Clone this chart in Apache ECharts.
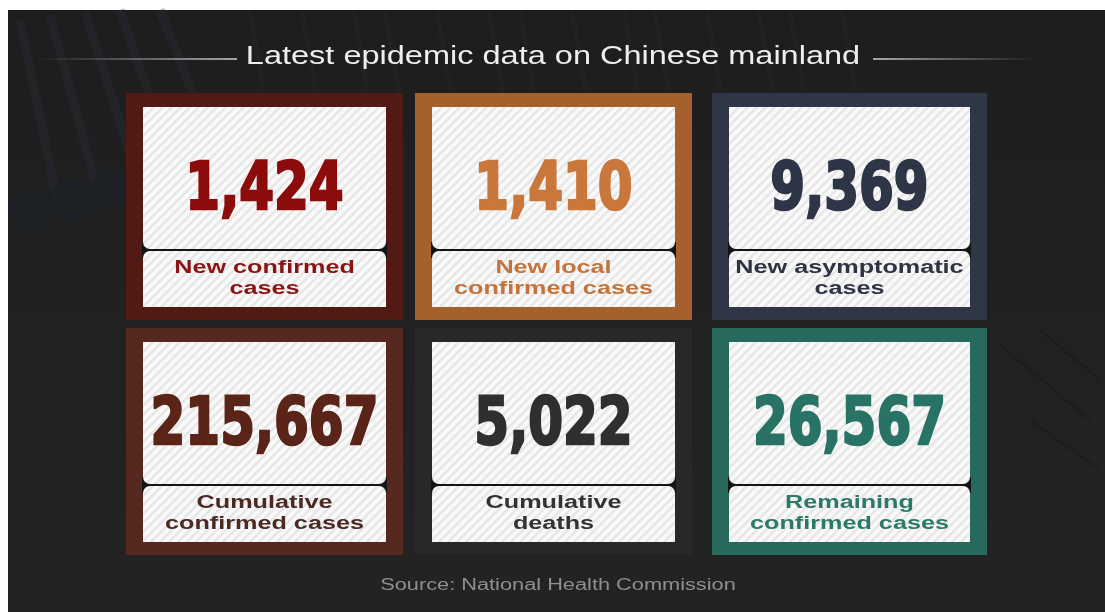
<!DOCTYPE html>
<html>
<head>
<meta charset="utf-8">
<script src="https://cdn.jsdelivr.net/npm/echarts@6/dist/echarts.min.js"></script>
<style>
  html, body { margin: 0; padding: 0; background: #ffffff; }
  #main { width: 1105px; height: 612px; }
</style>
</head>
<body>
<div id="main"></div>
<script>
// Headline figures and their captions
const titleText = 'Latest epidemic data on Chinese mainland';
const sourceText = 'Source: National Health Commission';
const values = [1424, 1410, 9369, 215667, 5022, 26567];
const labels = [
  'New confirmed\ncases',
  'New local\nconfirmed cases',
  'New asymptomatic\ncases',
  'Cumulative\nconfirmed cases',
  'Cumulative\ndeaths',
  'Remaining\nconfirmed cases'
];
const frameColors  = ['#521a14', '#a5602c', '#2f3747', '#57281f', '#282828', '#27695c'];
const numberColors = ['#8c0b0b', '#c9773b', '#2e3546', '#5b2419', '#2f2f2f', '#287365'];
const labelColors  = ['#8a1414', '#c3743c', '#2e3444', '#4b2a22', '#333333', '#2b7a69'];

// Card grid geometry
const colX = [126, 415, 712];
const colW = [277, 277, 275];
const rowY = [93, 328];
const rowH = 227;
const insetX = 17, insetTop = 14, insetBottom = 13;
const upperH = 143;

// Light diagonal stripe tile for the card faces
function stripeTile() {
  const c = document.createElement('canvas');
  const s = 9;
  c.width = s; c.height = s;
  const g = c.getContext('2d');
  g.fillStyle = '#f9f9f9';
  g.fillRect(0, 0, s, s);
  g.strokeStyle = '#e7e7e7';
  g.lineWidth = 2.5;
  g.beginPath();
  g.moveTo(-1, s + 1); g.lineTo(s + 1, -1);
  g.moveTo(-2, 2); g.lineTo(2, -2);
  g.moveTo(s - 2, s + 2); g.lineTo(s + 2, s - 2);
  g.stroke();
  return c;
}
const stripes = { image: stripeTile(), repeat: 'repeat' };

const elements = [];

// dark backdrop
elements.push({
  type: 'rect', shape: { x: 8, y: 10, width: 1097, height: 602 },
  style: {
    fill: { type: 'linear', x: 0, y: 0, x2: 0, y2: 1, colorStops: [
      { offset: 0, color: '#1d1d1e' }, { offset: 0.5, color: '#212122' }, { offset: 1, color: '#232323' }
    ] }
  }, z: 0
});

// faint helix strands in the backdrop
const strandStyle = { stroke: 'rgba(42,46,54,0.4)', lineWidth: 9, fill: null };
[[20, 20, 60, 215], [50, 15, 100, 200], [85, 12, 140, 185], [120, 10, 175, 170], [160, 10, 215, 150]].forEach(p => {
  elements.push({ type: 'line', shape: { x1: p[0], y1: p[1], x2: p[2], y2: p[3] }, style: strandStyle, z: 1 });
});
[[30, 210, 22], [72, 200, 22], [112, 188, 20]].forEach(p => {
  elements.push({ type: 'circle', shape: { cx: p[0], cy: p[1], r: p[2] }, style: { fill: 'rgba(29,32,38,0.8)' }, z: 1 });
});
[[1040, 330, 1100, 380], [1000, 345, 1090, 420], [1030, 420, 1100, 470]].forEach(p => {
  elements.push({ type: 'line', shape: { x1: p[0], y1: p[1], x2: p[2], y2: p[3] }, style: { stroke: 'rgba(20,20,20,0.35)', lineWidth: 2 }, z: 1 });
});
for (let i = 0; i < 14; i++) {
  const x = 250 + i * 45 + (i % 3) * 7;
  elements.push({ type: 'line', shape: { x1: x, y1: 12, x2: x + 14, y2: 92 },
    style: { stroke: 'rgba(42,44,50,0.3)', lineWidth: 5 }, z: 1 });
}

// title with flanking rules
elements.push({
  type: 'text', x: 553, y: 57, scaleX: 1.3, z: 5,
  style: { text: titleText, fill: '#eeeeee', font: '25px "Liberation Sans", Arial, sans-serif', align: 'center', verticalAlign: 'middle' }
});
elements.push({
  type: 'line', shape: { x1: 40, y1: 59, x2: 237, y2: 59 }, z: 5,
  style: { lineWidth: 1.5, stroke: { type: 'linear', x: 0, y: 0, x2: 1, y2: 0, global: false, colorStops: [
    { offset: 0, color: 'rgba(200,200,200,0)' }, { offset: 1, color: 'rgba(225,225,225,0.95)' }] } }
});
elements.push({
  type: 'line', shape: { x1: 873, y1: 59, x2: 1035, y2: 59 }, z: 5,
  style: { lineWidth: 1.5, stroke: { type: 'linear', x: 0, y: 0, x2: 1, y2: 0, global: false, colorStops: [
    { offset: 0, color: 'rgba(225,225,225,0.95)' }, { offset: 1, color: 'rgba(200,200,200,0)' }] } }
});

// cards
values.forEach((v, i) => {
  const col = i % 3, row = Math.floor(i / 3);
  const x0 = colX[col], y0 = rowY[row], w = colW[col];
  const ix = x0 + insetX, iw = w - 2 * insetX;
  const iy = y0 + insetTop, ih = rowH - insetTop - insetBottom;
  const div = iy + upperH;

  elements.push({ type: 'rect', z: 2, shape: { x: x0, y: y0, width: w, height: rowH }, style: { fill: frameColors[i] } });
  elements.push({ type: 'rect', z: 3, shape: { x: ix - 1, y: div - 8, width: iw + 2, height: 16 }, style: { fill: '#141414' } });
  elements.push({ type: 'rect', z: 4, shape: { x: ix, y: iy, width: iw, height: upperH - 1, r: [0, 0, 7, 7] }, style: { fill: stripes } });
  elements.push({ type: 'rect', z: 4, shape: { x: ix, y: div + 1, width: iw, height: iy + ih - div - 1, r: [7, 7, 0, 0] }, style: { fill: stripes } });

  elements.push({
    type: 'text', z: 6, x: ix + iw / 2, y: iy + 85, scaleX: 0.77,
    style: {
      text: v.toLocaleString('en-US'), fill: numberColors[i], stroke: numberColors[i], lineWidth: 2.6,
      font: 'bold 65px "DejaVu Sans", sans-serif',
      align: 'center', verticalAlign: 'middle'
    }
  });
  elements.push({
    type: 'text', z: 6, x: ix + iw / 2, y: div + 29, scaleX: 1.4,
    style: {
      text: labels[i], fill: labelColors[i], lineHeight: 21,
      font: 'bold 18px "Liberation Sans", Arial, sans-serif',
      align: 'center', verticalAlign: 'middle'
    }
  });
});

// source line
elements.push({
  type: 'text', z: 5, x: 558, y: 586, scaleX: 1.36,
  style: { text: sourceText, fill: '#8f8f8f', font: '16px "Liberation Sans", Arial, sans-serif', align: 'center', verticalAlign: 'middle' }
});

const chart = echarts.init(document.getElementById('main'), null, { renderer: 'canvas' });
chart.setOption({ animation: false, graphic: { elements: elements } });
</script>
</body>
</html>
